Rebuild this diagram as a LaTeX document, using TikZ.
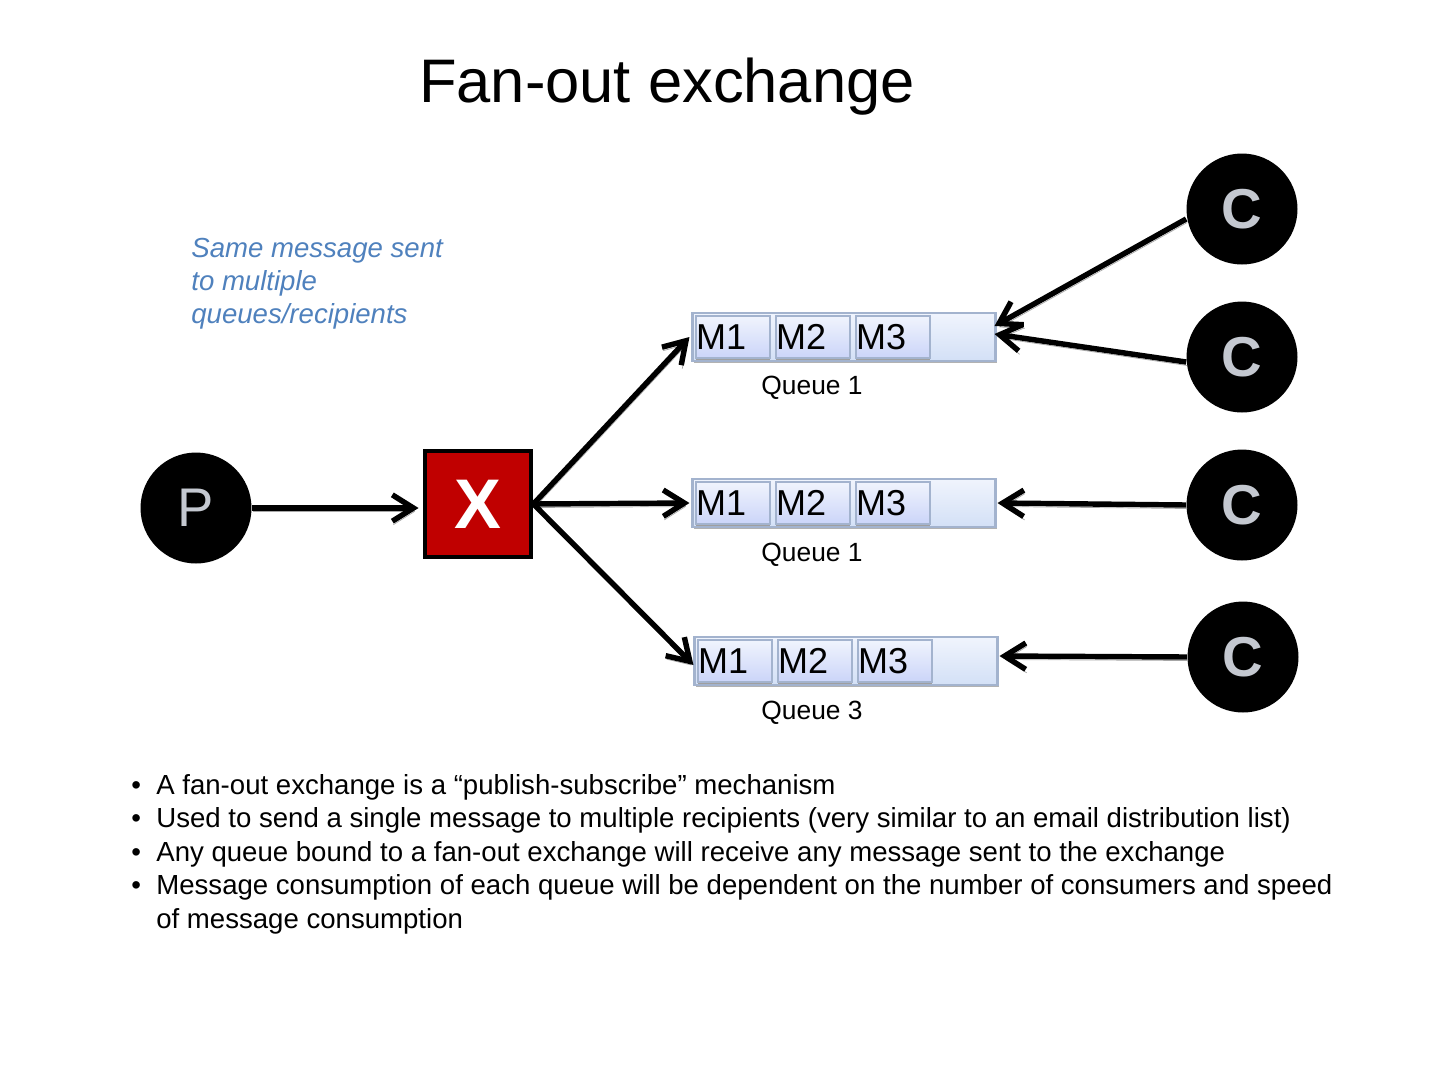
\documentclass[tikz,border=0pt]{standalone}
\usepackage{fontspec}
\setmainfont{Liberation Sans}
\usetikzlibrary{arrows.meta}
\definecolor{qborder}{HTML}{A3B3CE}
\definecolor{qtop}{HTML}{F0F4FD}
\definecolor{qbot}{HTML}{D3E0F6}
\definecolor{notecol}{HTML}{4F81BD}
\definecolor{xred}{HTML}{C00000}
\definecolor{letter}{HTML}{C4C8D0}
\tikzset{
  actor/.style={circle, fill=black, minimum size=2.22cm, inner sep=0pt, text=letter},
  exch/.style={rectangle, fill=xred, draw=black, line width=2.8pt, minimum size=2.12cm, inner sep=0pt, text=white, font=\fontsize{40}{40}\selectfont\bfseries},
  queuebox/.style={rectangle, draw=qborder, line width=1.2pt, top color=qtop, bottom color=qbot, minimum width=6.06cm, minimum height=0.96cm, inner sep=0pt,
    preaction={fill=gray!60, transform canvas={shift={(0.6pt,-1.2pt)}}}},
  mbox/.style={rectangle, draw=qborder, line width=0.8pt, top color=qtop, bottom color=qbot!90!blue!80, minimum width=1.48cm, minimum height=0.84cm, inner sep=0pt, text width=1.48cm, align=left,
    font=\fontsize{20.5}{20.5}\selectfont,
    preaction={fill=gray!75, transform canvas={shift={(0pt,-1.3pt)}}}},
  qlabel/.style={anchor=base, font=\fontsize{15}{15}\selectfont},
  arr/.style={line width=3.1pt, -{Straight Barb[length=12pt, width=15pt, line width=3.1pt]},
    preaction={draw=gray!70, transform canvas={shift={(0.6pt,-2pt)}}}},
  bullettxt/.style={anchor=base west, font=\fontsize{15.7}{15.7}\selectfont},
  note/.style={anchor=base west, font=\fontsize{15.7}{15.7}\selectfont\itshape, text=notecol, inner sep=0pt}
}
\begin{document}
\begin{tikzpicture}[x=0.02cm, y=-0.02cm]
\useasboundingbox (0,0) rectangle (1440,1080);

% title
\node[anchor=base, font=\fontsize{35}{35}\selectfont, inner sep=0pt] (title) at (667,102) {Fan-out exchange};

% note
\node[note] (n1) at (191,257) {Same message sent};
\node[note] (n2) at (191,290) {to multiple};
\node[note] (n3) at (191,323) {queues/recipients};

% producer and exchange
\node[actor, font=\fontsize{31}{31}\selectfont] (P) at (196,508) {P};
\node[exch] (X) at (478,504) {X};

% queues
\node[queuebox] (q1) at (844,337) {};
\node[queuebox] (q2) at (844,503) {};
\node[queuebox] (q3) at (846,661) {};

\foreach \q in {1,2,3}{
  \node[mbox, anchor=west] (m1\q) at ([xshift=0.08cm]q\q.west) {M1};
  \node[mbox, anchor=west] (m2\q) at ([xshift=1.68cm]q\q.west) {M2};
  \node[mbox, anchor=west] (m3\q) at ([xshift=3.28cm]q\q.west) {M3};
}

\node[qlabel] (l1) at (812,394) {Queue 1};
\node[qlabel] (l2) at (812,561) {Queue 1};
\node[qlabel] (l3) at (812,719) {Queue 3};

% consumers
\node[actor, font=\fontsize{32}{32}\selectfont\bfseries] (c1) at (1242,209) {C};
\node[actor, font=\fontsize{32}{32}\selectfont\bfseries] (c2) at (1242,357) {C};
\node[actor, font=\fontsize{32}{32}\selectfont\bfseries] (c3) at (1242,505) {C};
\node[actor, font=\fontsize{32}{32}\selectfont\bfseries] (c4) at (1243,657) {C};

% connectors
\draw[arr] (P.east) -- ([xshift=-0.08cm]P.east -| X.west);
\draw[arr] (X.east) -- ([xshift=-0.04cm]q1.west);
\draw[arr] (X.east) -- ([xshift=-0.04cm]q2.west);
\draw[arr] (X.east) -- ([xshift=0cm,yshift=-0.08cm]q3.west);
\draw[arr] ([yshift=-0.2cm]c1.west) -- ([xshift=-0.04cm,yshift=0.22cm]q1.east);
\draw[arr] ([yshift=-0.1cm]c2.west) -- ([xshift=-0.04cm,yshift=0.06cm]q1.east);
\draw[arr] (c3.west) -- ([xshift=0.02cm]q2.east);
\draw[arr] (c4.west) -- ([xshift=0.02cm,yshift=0.1cm]q3.east);

% bullets
\foreach \y/\t [count=\i] in {794/{A fan-out exchange is a “publish-subscribe” mechanism},
  827/{Used to send a single message to multiple recipients (very similar to an email distribution list)},
  861/{Any queue bound to a fan-out exchange will receive any message sent to the exchange},
  894/{Message consumption of each queue will be dependent on the number of consumers and speed}}{
  \node[bullettxt, inner sep=0pt] (b\i) at (131,\y) {•};
  \node[bullettxt, inner sep=0pt] (t\i) at (156,\y) {\t};
}
\node[bullettxt, inner sep=0pt] (t5) at (156,928) {of message consumption};
\end{tikzpicture}
\end{document}
